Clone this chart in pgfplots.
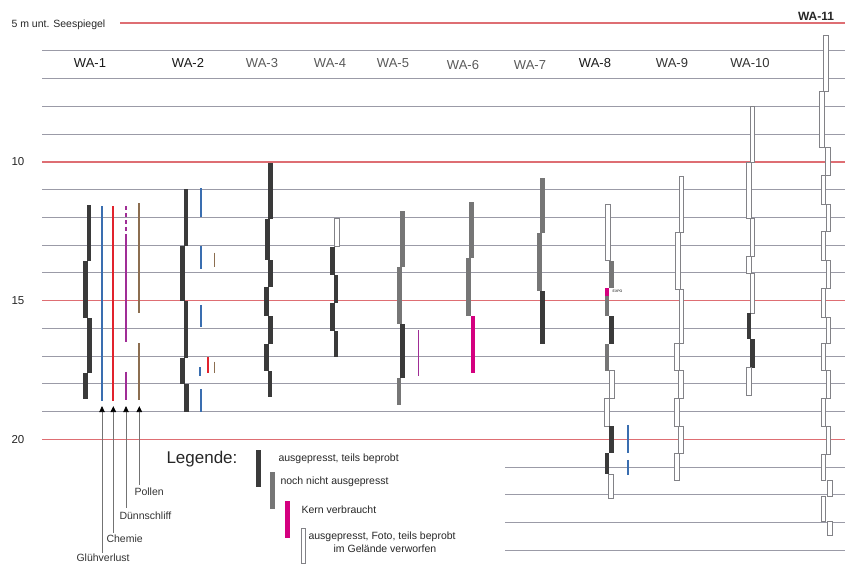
\documentclass[border=0pt]{standalone}
\usepackage{pgfplots}
\pgfplotsset{compat=1.18}
\usetikzlibrary{arrows.meta}
\usepackage{fontspec}
\setmainfont{Liberation Sans}
\definecolor{gl}{RGB}{155,155,167}
\definecolor{rl}{RGB}{222,110,115}
\definecolor{dk}{RGB}{58,58,58}
\definecolor{md}{RGB}{118,118,118}
\definecolor{mg}{RGB}{212,0,127}
\definecolor{bl}{RGB}{58,110,176}
\definecolor{rd}{RGB}{225,35,45}
\definecolor{pu}{RGB}{160,45,150}
\definecolor{br}{RGB}{140,110,80}
\definecolor{wo}{RGB}{130,130,135}
\tikzset{
  D/.style={fill=dk,draw=none},
  M/.style={fill=md,draw=none},
  K/.style={fill=mg,draw=none},
  W/.style={fill=white,draw=wo,line width=0.6pt},
}
% segment: style, x (px), top depth (m), bottom depth (m)
\newcommand{\seg}[4]{%
  \pgfmathsetmacro\xl{#2-2.4}%
  \pgfmathsetmacro\xr{#2+2.4}%
  \edef\temp{\noexpand\addplot[#1] coordinates {(\xl,#3) (\xr,#3) (\xr,#4) (\xl,#4)} -- cycle;}%
  \temp}
\newcommand{\vl}[5]{% color, width, x, top, bottom
  \addplot[#1,line width=#2] coordinates {(#3,#4) (#3,#5)};}
\newcommand{\hl}[4]{% color, depth, x0, x1
  \addplot[#1,line width=1pt] coordinates {(#3,#2) (#4,#2)};}
\newcommand{\rlin}[3]{% depth, x0, x1
  \addplot[rl,line width=1.5pt] coordinates {(#2,#1) (#3,#1)};}
\begin{document}
\begin{tikzpicture}
\begin{axis}[x=1pt, y=27.76pt, y dir=reverse,
  xmin=0, xmax=852, ymin=4.1715, ymax=24.488,
  hide axis, clip=false]
\path (rel axis cs:0,0) rectangle (rel axis cs:1,1);
% horizontal depth lines
\hl{gl}{6}{42}{845}
\hl{gl}{7}{42}{845}
\hl{gl}{8}{42}{845}
\hl{gl}{9}{42}{845}
\hl{gl}{11}{42}{845}
\hl{gl}{12}{42}{845}
\hl{gl}{13}{42}{845}
\hl{gl}{14}{42}{845}
\hl{gl}{16}{42}{845}
\hl{gl}{17}{42}{845}
\hl{gl}{18}{42}{845}
\hl{gl}{19}{42}{845}
\hl{gl}{21}{505}{845}
\hl{gl}{22}{505}{845}
\hl{gl}{23}{505}{845}
\hl{gl}{24}{505}{845}
\rlin{5}{120}{845}
\rlin{10}{42}{845}
\rlin{15}{42}{845}
\rlin{20}{42}{845}
% labels
\node[anchor=west,font=\fontsize{10.5}{12}\selectfont,text=black!85] at (axis cs:8,5.05) {5 m unt. Seespiegel};
\node[font=\fontsize{11.5}{13}\selectfont,text=black!85] at (axis cs:18,10) {10};
\node[font=\fontsize{11.5}{13}\selectfont,text=black!85] at (axis cs:18,15) {15};
\node[font=\fontsize{11.5}{13}\selectfont,text=black!85] at (axis cs:18,20) {20};
\node[font=\fontsize{13}{15}\selectfont,text=black!90] at (axis cs:90,6.44) {WA-1};
\node[font=\fontsize{13}{15}\selectfont,text=black!90] at (axis cs:188,6.44) {WA-2};
\node[font=\fontsize{13}{15}\selectfont,text=black!65] at (axis cs:262,6.44) {WA-3};
\node[font=\fontsize{13}{15}\selectfont,text=black!65] at (axis cs:330,6.44) {WA-4};
\node[font=\fontsize{13}{15}\selectfont,text=black!65] at (axis cs:393,6.44) {WA-5};
\node[font=\fontsize{13}{15}\selectfont,text=black!65] at (axis cs:463,6.5) {WA-6};
\node[font=\fontsize{13}{15}\selectfont,text=black!65] at (axis cs:530,6.5) {WA-7};
\node[font=\fontsize{13}{15}\selectfont,text=black!90] at (axis cs:595,6.44) {WA-8};
\node[font=\fontsize{13}{15}\selectfont,text=black!80] at (axis cs:672,6.44) {WA-9};
\node[font=\fontsize{13}{15}\selectfont,text=black!80] at (axis cs:750,6.44) {WA-10};
\node[font=\bfseries\fontsize{12}{14}\selectfont,text=black!85] at (axis cs:816,4.75) {WA-11};
% WA-1
\seg{D}{89}{11.55}{13.56}
\seg{D}{85.3}{13.56}{15.63}
\seg{D}{89.3}{15.63}{17.6}
\seg{D}{85.3}{17.6}{18.56}
\vl{bl}{2pt}{101.7}{11.6}{18.6}
\vl{rd}{2.2pt}{113.3}{11.6}{18.6}
\addplot[pu,line width=2pt,dash pattern=on 4pt off 3pt] coordinates {(126,11.6) (126,12.5)};
\vl{pu}{2pt}{126}{12.6}{16.48}
\vl{pu}{2pt}{126}{17.56}{18.58}
\vl{br}{1.8pt}{139.3}{11.5}{15.46}
\vl{br}{1.8pt}{139.3}{16.54}{18.58}
% WA-2
\seg{D}{186}{10.99}{13.03}
\seg{D}{182.7}{13.03}{15.03}
\seg{D}{186}{15.03}{17.08}
\seg{D}{182.7}{17.08}{18.0}
\seg{D}{186.7}{18.0}{19.0}
\vl{bl}{1.8pt}{201}{10.95}{12.0}
\vl{bl}{1.8pt}{201}{13.03}{13.87}
\vl{bl}{1.8pt}{201}{15.15}{15.96}
\vl{bl}{1.8pt}{200}{17.4}{17.72}
\vl{bl}{1.8pt}{201}{18.2}{19.0}
\vl{br}{1.6pt}{214.3}{13.27}{13.8}
\vl{br}{1.6pt}{214.3}{17.2}{17.6}
\vl{rd}{1.8pt}{207.7}{17.04}{17.6}
% WA-3
\seg{D}{270.7}{10.05}{12.07}
\seg{D}{267.7}{12.07}{13.54}
\seg{D}{270.7}{13.54}{14.52}
\seg{D}{266.7}{14.52}{15.56}
\seg{D}{270.7}{15.56}{16.57}
\seg{D}{266.7}{16.57}{17.53}
\seg{D}{270}{17.53}{18.49}
% WA-4
\seg{W}{336.7}{12.04}{13.06}
\seg{D}{332.3}{13.06}{14.07}
\seg{D}{336}{14.07}{15.09}
\seg{D}{332.3}{15.09}{16.09}
\seg{D}{336}{16.09}{17.04}
% WA-5
\seg{M}{402.3}{11.77}{13.8}
\seg{M}{399.3}{13.8}{15.84}
\seg{D}{402.7}{15.84}{17.8}
\seg{M}{399}{17.8}{18.76}
\vl{pu}{1.5pt}{418.3}{16.06}{17.72}
% WA-6
\seg{M}{471.7}{11.46}{13.47}
\seg{M}{468.3}{13.47}{15.55}
\seg{K}{473}{15.55}{17.6}
% WA-7
\seg{M}{542.3}{10.57}{12.58}
\seg{M}{539.3}{12.58}{14.64}
\seg{D}{542.3}{14.64}{16.57}
% WA-8
\seg{W}{607.7}{11.52}{13.56}
\seg{M}{611.7}{13.56}{14.56}
\seg{K}{607}{14.56}{14.83}
\seg{M}{607}{14.83}{15.55}
\seg{D}{611.7}{15.55}{16.56}
\seg{M}{607}{16.56}{17.52}
\seg{W}{611.7}{17.52}{18.52}
\seg{W}{607}{18.52}{19.52}
\seg{D}{611.7}{19.52}{20.5}
\seg{D}{607}{20.5}{21.25}
\seg{W}{611}{21.25}{22.12}
\vl{bl}{1.8pt}{628.3}{19.48}{20.5}
\vl{bl}{1.8pt}{628.3}{20.74}{21.28}
\node[anchor=west,font=\fontsize{3.5}{4}\selectfont,inner sep=0.5pt] at (axis cs:612,14.68) {EXPO};
% WA-9
\seg{W}{681.3}{10.53}{12.54}
\seg{W}{677.7}{12.54}{14.59}
\seg{W}{681.3}{14.59}{16.54}
\seg{W}{677}{16.54}{17.52}
\seg{W}{681}{17.52}{18.52}
\seg{W}{677}{18.52}{19.52}
\seg{W}{681}{19.52}{20.5}
\seg{W}{677}{20.5}{21.49}
% WA-10
\seg{W}{752.3}{8.0}{10.0}
\seg{W}{749}{10.0}{12.04}
\seg{W}{752.3}{12.04}{13.4}
\seg{W}{748.5}{13.4}{14.0}
\seg{W}{752.3}{14.0}{15.46}
\seg{D}{749}{15.46}{16.4}
\seg{D}{752.5}{16.4}{17.41}
\seg{W}{749}{17.41}{18.41}
% WA-11
\seg{W}{825.7}{5.43}{7.47}
\seg{W}{821.7}{7.47}{9.49}
\seg{W}{827.7}{9.49}{10.47}
\seg{W}{823.3}{10.47}{11.52}
\seg{W}{828.3}{11.52}{12.52}
\seg{W}{823.3}{12.52}{13.54}
\seg{W}{828.3}{13.54}{14.56}
\seg{W}{823.3}{14.56}{15.6}
\seg{W}{828.3}{15.6}{16.54}
\seg{W}{823.3}{16.54}{17.52}
\seg{W}{828.3}{17.52}{18.52}
\seg{W}{823.3}{18.52}{19.54}
\seg{W}{828.3}{19.54}{20.53}
\seg{W}{823.3}{20.53}{21.46}
\seg{W}{830}{21.46}{22.06}
\seg{W}{823.3}{22.06}{22.96}
\seg{W}{830}{22.96}{23.44}
% analysis arrows
\addplot[draw=black!55,line width=0.7pt,-{Triangle[length=6pt,width=5.5pt,color=black]}] coordinates {(102,24.09) (102,18.8)};
\addplot[draw=black!55,line width=0.7pt,-{Triangle[length=6pt,width=5.5pt,color=black]}] coordinates {(113.3,23.37) (113.3,18.8)};
\addplot[draw=black!55,line width=0.7pt,-{Triangle[length=6pt,width=5.5pt,color=black]}] coordinates {(126,22.47) (126,18.8)};
\addplot[draw=black!55,line width=0.7pt,-{Triangle[length=6pt,width=5.5pt,color=black]}] coordinates {(139.3,21.64) (139.3,18.8)};
\node[anchor=west,font=\fontsize{10.5}{12}\selectfont,text=black!80] at (axis cs:131,21.9) {Pollen};
\node[anchor=west,font=\fontsize{10.5}{12}\selectfont,text=black!80] at (axis cs:116,22.76) {Dünnschliff};
\node[anchor=west,font=\fontsize{10.5}{12}\selectfont,text=black!80] at (axis cs:103,23.59) {Chemie};
\node[anchor=west,font=\fontsize{10.5}{12}\selectfont,text=black!80] at (axis cs:73,24.25) {Glühverlust};
% legend
\node[anchor=west,font=\fontsize{17}{19}\selectfont,text=black!85] at (axis cs:163,20.7) {Legende:};
\seg{D}{258.3}{20.38}{21.72}
\seg{M}{272.7}{21.19}{22.52}
\seg{K}{287.3}{22.21}{23.56}
\seg{W}{303.3}{23.2}{24.45}
\node[anchor=west,font=\fontsize{10.5}{12}\selectfont,text=black!85] at (axis cs:275,20.71) {ausgepresst, teils beprobt};
\node[anchor=west,font=\fontsize{10.5}{12}\selectfont,text=black!85] at (axis cs:277,21.52) {noch nicht ausgepresst};
\node[anchor=west,font=\fontsize{10.5}{12}\selectfont,text=black!85] at (axis cs:298,22.52) {Kern verbraucht};
\node[anchor=west,font=\fontsize{10.5}{12}\selectfont,text=black!85] at (axis cs:305,23.5) {ausgepresst, Foto, teils beprobt};
\node[font=\fontsize{10.5}{12}\selectfont,text=black!85] at (axis cs:385,23.95) {im Gelände verworfen};
\end{axis}
\end{tikzpicture}
\end{document}
